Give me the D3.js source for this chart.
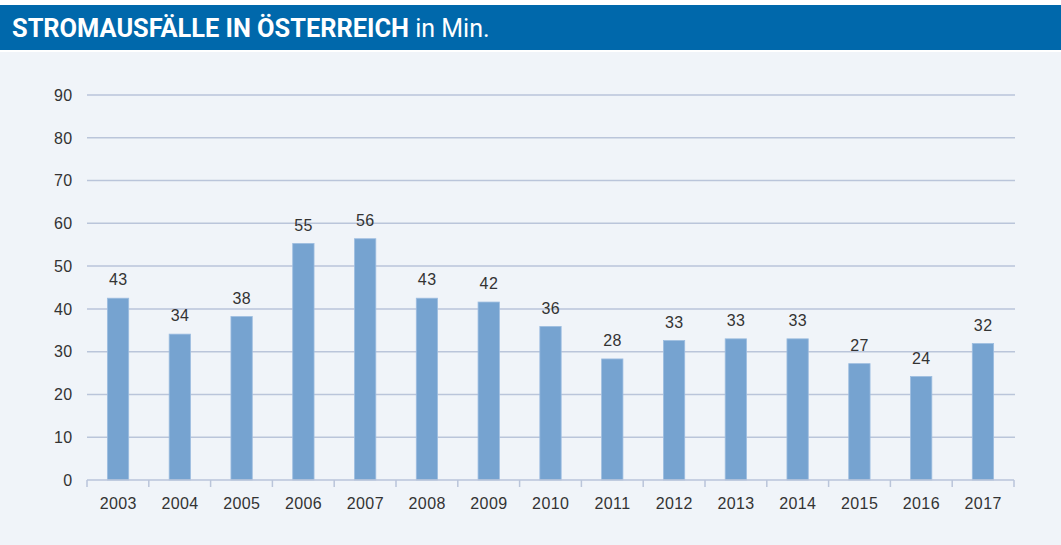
<!DOCTYPE html>
<html><head><meta charset="utf-8">
<script src="https://cdn.jsdelivr.net/npm/d3@7"></script>
<style>
html,body{margin:0;padding:0;background:#fff;}
svg{display:block;}
</style></head>
<body>
<svg id="c" width="1061" height="545"></svg>
<script>
const categories = ["2003","2004","2005","2006","2007","2008","2009","2010","2011","2012","2013","2014","2015","2016","2017"];
const values = [42.5, 34.1, 38.2, 55.3, 56.4, 42.5, 41.6, 35.9, 28.3, 32.6, 33.0, 33.0, 27.2, 24.2, 31.9];
const yTicks = [0,10,20,30,40,50,60,70,80,90];
const titleBold = "STROMAUSFÄLLE IN ÖSTERREICH";
const titleRest = " in Min.";

const W = 1061, H = 545;
const svg = d3.select("#c");
svg.append("rect").attr("x",0).attr("y",0).attr("width",W).attr("height",H).attr("fill","#f0f4f9");
svg.append("rect").attr("x",0).attr("y",0).attr("width",W).attr("height",5).attr("fill","#ffffff");
svg.append("rect").attr("x",0).attr("y",5).attr("width",W).attr("height",45).attr("fill","#0068ab");
svg.append("rect").attr("x",0).attr("y",50).attr("width",W).attr("height",2).attr("fill","#ffffff");

const t = svg.append("text").attr("x",12).attr("y",37).attr("fill","#fff")
  .style("font-family","Roboto, 'Liberation Sans', sans-serif").style("font-size","25px");
const tb = t.append("tspan").attr("font-weight","bold").text(titleBold);
const tr = t.append("tspan").attr("font-weight","normal").text(titleRest);
const bw = tb.node().getComputedTextLength();
if (bw > 0) tb.attr("textLength", 397).attr("lengthAdjust","spacingAndGlyphs");

const x0 = 87, x1 = 1014, yTop = 95, yBot = 480;
const x = d3.scaleBand().domain(categories).range([x0,x1]).paddingInner(0.655).paddingOuter(0.33);
const y = d3.scaleLinear().domain([0,90]).range([yBot,yTop]);

const fontFam = "'Liberation Sans', Arial, sans-serif";
const fs = "16px";
const ls = "0.4px";
const g = svg.append("g");
g.selectAll("line.grid").data(yTicks.filter(d=>d>0)).enter().append("line")
  .attr("x1",x0).attr("x2",x1+1).attr("y1",d=>y(d)).attr("y2",d=>y(d))
  .attr("stroke","#bac5da").attr("stroke-width",1.5);

g.selectAll("text.yl").data(yTicks).enter().append("text")
  .attr("x",72.5).attr("y",d=>y(d)).attr("dy","0.36em").attr("text-anchor","end")
  .attr("fill","#333").style("font-family",fontFam).style("font-size",fs).style("letter-spacing",ls)
  .text(d=>d);

g.selectAll("rect.bar").data(values).enter().append("rect")
  .attr("x",(d,i)=>x(categories[i])).attr("width",x.bandwidth())
  .attr("y",d=>y(d)).attr("height",d=>yBot-y(d))
  .attr("fill","#76a3d0").attr("stroke","#9dbde0").attr("stroke-width",0.8);

g.append("line").attr("x1",x0).attr("x2",x1).attr("y1",yBot).attr("y2",yBot)
  .attr("stroke","#bac5da").attr("stroke-width",1.5);
const step = (x1-x0)/categories.length;
const bounds = d3.range(categories.length+1).map(i=>x0+i*step);
g.selectAll("line.tk").data(bounds).enter().append("line")
  .attr("x1",d=>d).attr("x2",d=>d).attr("y1",yBot).attr("y2",yBot+7)
  .attr("stroke","#bac5da").attr("stroke-width",1.5);

g.selectAll("text.xl").data(categories).enter().append("text")
  .attr("x",d=>x(d)+x.bandwidth()/2+0.2).attr("y",503).attr("dy","0.36em").attr("text-anchor","middle")
  .attr("fill","#333").style("font-family",fontFam).style("font-size",fs).style("letter-spacing",ls)
  .text(d=>d);

g.selectAll("text.vl").data(values).enter().append("text")
  .attr("x",(d,i)=>x(categories[i])+x.bandwidth()/2+0.2).attr("y",d=>y(d)-18.5).attr("dy","0.36em")
  .attr("text-anchor","middle")
  .attr("fill","#333").style("font-family",fontFam).style("font-size",fs).style("letter-spacing",ls)
  .text(d=>Math.round(d));
</script>
</body></html>
